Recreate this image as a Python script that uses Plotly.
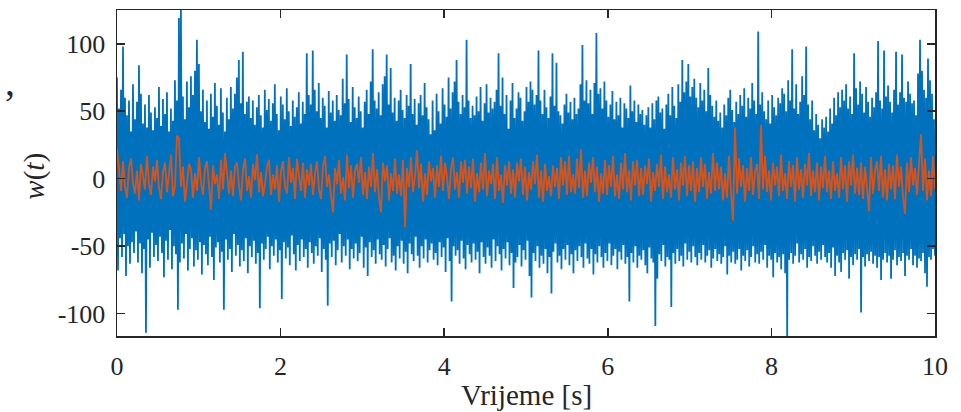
import numpy as np
import plotly.graph_objects as go

# Blue signal w(t): hand-read envelope samples (alternating upper/lower excursions)
w_blue = [
    75,-68, 52,-44, 66,-58, 98,-41, 60,-72, 47,-50, 58,-63, 35,-47, 70,-55, 44,-39,
    57,-62, 84,-48, 63,-70, 41,-52, 55,-114, 38,-45, 62,-66, 49,-40, 36,-58, 53,-49,
    45,-61, 68,-43, 39,-55, 59,-73, 48,-46, 64,-60, 35,-38, 52,-67, 43,-50, 73,-56,
    58,-97, 119,-62, 125,-48, 61,-59, 44,-41, 72,-68, 53,-52, 76,-44, 62,-65, 80,-53,
    103,-60, 85,-47, 50,-71, 66,-49, 42,-56, 58,-64, 37,-43, 63,-58, 46,-75, 71,-51,
    54,-47, 40,-62, 67,-54, 49,-97, 35,-45, 60,-60, 44,-52, 68,-69, 52,-41, 63,-57,
    75,-49, 88,-65, 56,-53, 94,-61, 48,-44, 57,-70, 61,-50, 45,-58, 58,-46, 40,-63,
    53,-55, 62,-96, 47,-48, 38,-60, 66,-52, 51,-43, 59,-67, 43,-50, 56,-57, 70,-45,
    48,-62, 36,-53, 61,-89, 55,-47, 44,-59, 67,-51, 50,-64, 39,-42, 58,-56, 46,-68,
    53,-49, 64,-61, 41,-45, 57,-58, 48,-52, 93,-66, 62,-47, 55,-55, 95,-63, 66,-50,
    50,-57, 71,-44, 45,-69, 60,-52, 54,-60, 38,-94, 65,-48, 49,-58, 58,-46, 43,-64,
    62,-53, 51,-41, 47,-62, 74,-50, 56,-57, 92,-45, 59,-67, 42,-52, 68,-59, 53,-48,
    45,-61, 61,-55, 50,-43, 38,-66, 57,-51, 66,-72, 48,-47, 72,-58, 96,-53, 58,-63,
    52,-45, 64,-56, 47,-60, 70,-49, 76,-65, 92,-52, 55,-44, 82,-62, 49,-57, 60,-68,
    43,-50, 58,-59, 66,-46, 51,-63, 45,-54, 62,-70, 54,-48, 85,-56, 48,-61, 59,-43,
    40,-57, 56,-66, 62,-50, 47,-59, 71,-45, 53,-62, 44,-53, 33,-48, 58,-60, 36,-55,
    63,-64, 50,-47, 41,-58, 67,-51, 55,-69, 46,-44, 75,-61, 52,-91, 64,-50, 72,-57,
    88,-53, 57,-63, 48,-46, 62,-59, 53,-67, 103,-49, 58,-56, 45,-62, 54,-48, 47,-60,
    61,-54, 50,-70, 68,-47, 43,-58, 56,-63, 70,-51, 49,-57, 60,-66, 52,-45, 57,-61,
    66,-50, 93,-56, 54,-68, 75,-52, 48,-59, 62,-47, 37,-64, 58,-55, 71,-81, 45,-62,
    52,-58, 64,-49, 60,-65, 43,-53, 50,-60, 68,-46, 57,-72, 72,-88, 66,-55, 55,-61,
    62,-50, 95,-66, 58,-57, 48,-63, 66,-52, 53,-70, 45,-58, 61,-85, 93,-54, 54,-48,
    86,-62, 50,-57, 47,-67, 41,-52, 55,-60, 63,-49, 49,-64, 57,-56, 44,-70, 60,-53,
    48,-61, 52,-50, 70,-58, 99,-66, 58,-48, 73,-59, 56,-63, 66,-52, 48,-71, 71,-56,
    108,-62, 63,-50, 67,-58, 52,-66, 72,-55, 58,-61, 46,-48, 55,-64, 65,-57, 44,-52,
    57,-67, 47,-54, 60,-60, 38,-49, 56,-63, 52,-58, 45,-91, 69,-55, 50,-62, 58,-50,
    42,-66, 55,-57, 48,-60, 51,-53, 40,-64, 47,-70, 53,-51, 38,-59, 56,-62, 44,-109,
    58,-74, 61,-56, 49,-61, 52,-49, 37,-65, 55,-58, 63,-60, 47,-95, 68,-55, 54,-63,
    45,-52, 70,-61, 57,-57, 88,-65, 64,-48, 72,-60, 85,-54, 61,-62, 68,-50, 74,-58,
    60,-64, 53,-55, 71,-60, 58,-49, 66,-62, 50,-57, 82,-53, 62,-66, 54,-59, 46,-52,
    58,-61, 43,-56, 49,-63, 38,-58, 55,-50, 47,-71, 60,-57, 66,-62, 51,-54, 42,-63,
    57,-60, 48,-52, 62,-68, 54,-57, 67,-61, 46,-53, 60,-65, 52,-58, 71,-50, 58,-62,
    48,-56, 109,-63, 55,-54, 64,-60, 50,-49, 44,-66, 58,-57, 41,-60, 62,-73, 53,-55,
    47,-62, 60,-58, 56,-67, 67,-56, 63,-70, 50,-117, 73,-60, 58,-55, 96,-63, 52,-57,
    70,-48, 48,-62, 57,-56, 76,-60, 62,-52, 98,-66, 55,-58, 44,-61, 58,-50, 36,-57,
    48,-63, 40,-54, 30,-60, 44,-49, 38,-58, 46,-62, 35,-55, 52,-66, 41,-51, 60,-72,
    47,-57, 64,-62, 53,-69, 66,-55, 58,-60, 70,-53, 52,-74, 61,-58, 48,-64, 93,-56,
    67,-60, 55,-52, 72,-99, 63,-58, 49,-65, 68,-56, 57,-61, 46,-54, 60,-63, 53,-57,
    64,-66, 102,-58, 58,-75, 52,-60, 95,-55, 61,-62, 69,-57, 57,-74, 49,-60, 66,-53,
    94,-64, 55,-58, 64,-61, 92,-55, 60,-72, 57,-57, 72,-60, 63,-52, 56,-64, 58,-57,
    47,-66, 78,-59, 103,-61, 80,-55, 66,-70, 60,-80, 89,-58, 73,-60, 63,-52, 44,-57,
]

# Orange signal: hand-read samples
w_orange = [
    22, 4, -9, 13, -6, -14, 8, 15, -3, -11,
    6, -16, 11, 2, -8, 17, -4, -12, 9, -2,
    14, -7, -15, 5, 12, -10, 3, 18, -13, -5,
    32, 30, -6, 9, -17, -2, 11, 7, -14, 4,
    -9, 16, -3, -12, 8, 13, -7, -23, 10, -4,
    3, -15, 14, -8, 19, 1, -11, 6, -13, 9,
    12, -5, -16, 7, 15, -9, 2, -14, 11, -1,
    18, -10, 5, -13, -4, 9, 14, -12, 3, -8,
    10, -17, 6, 13, -6, -11, 16, -3, 8, -15,
    15, 2, -9, 12, -14, 7, -5, 11, -12, 4,
    13, -8, -15, 9, 17, -6, 3, -13, -25, 8,
    -4, 14, -11, 1, -16, 18, -7, 10, -14, 6,
    11, -3, 16, -12, 5, -15, 9, -6, 19, -10,
    7, -14, -25, 12, -2, 10, -16, 4, -9, 15,
    -11, 3, -13, 14, -36, 8, -6, 16, -10, 2,
    21, -7, 11, -17, 4, -12, 13, -2, 8, -14,
    10, -6, 17, -9, 12, 1, -15, 7, 16, -8,
    5, -14, 13, -3, 14, -11, 9, -7, 15, -17,
    4, -10, 12, -8, 19, -13, 6, -4, 11, -15,
    16, -9, 3, -18, 10, -5, 13, -11, 7, -14,
    12, -2, 15, -12, 9, -16, 5, -8, 13, -4,
    18, -14, 6, -17, 11, -9, 2, -13, 10, -6,
    8, -15, 16, -5, 13, -12, 17, -10, 3, -11,
    15, -7, 22, -14, 6, -13, 12, -3, 16, -10,
    9, -17, 4, -11, 14, -12, 10, -6, 17, -13,
    3, -15, 12, -8, 19, -10, 6, -16, 13, -5,
    14, -13, 8, -12, 10, -4, 15, -17, 5, -9,
    11, -6, 18, -15, 9, -10, 3, -14, 16, -8,
    7, -16, 12, -5, 17, -13, 10, -9, 13, -17,
    8, -10, 16, -6, 11, -15, 5, -11, 19, -9,
    12, -8, 9, -16, 4, -14, 17, -10, -31, 38,
    -11, 15, -6, 10, -17, 8, -9, 16, -12, 5,
    11, -15, 40, -8, 17, -10, 6, -16, 12, -5,
    9, -13, 18, -9, 4, -15, 13, -6, 10, -17,
    16, -8, 7, -14, 11, -5, 19, -13, 6, -10,
    12, -16, 9, -7, 17, -10, 6, -15, 13, -9,
    4, -14, 16, -8, 10, -17, 13, -5, 18, -11,
    8, -12, 12, -15, 9, -7, -24, 16, -11, 6,
    13, -9, 17, -14, 7, -16, 11, -8, 10, -15,
    18, -6, 9, -13, -26, 12, -10, 16, -5, 8,
    -12, 11, 33, -9, 15, -16, 6, -13, 17, -8,
]

x_tickvals = [0, 2, 4, 6, 8, 10]
x_ticktext = ["0", "2", "4", "6", "8", "10"]
y_tickvals = [-100, -50, 0, 50, 100]
y_ticktext = ["-100", "-50", "0", "50", "100"]

T_END = 10.0
t_blue = np.linspace(0, T_END, len(w_blue))
t_orange = np.linspace(0, T_END, len(w_orange))

BLUE = "#0072BD"
ORANGE = "#D95319"
AX = "#262626"
FONT = "Liberation Serif, DejaVu Serif, serif"

fig = go.Figure()
fig.add_trace(go.Scatter(x=t_blue, y=w_blue, mode="lines",
                         line=dict(color=BLUE, width=1.8), hoverinfo="skip"))
fig.add_trace(go.Scatter(x=t_orange, y=w_orange, mode="lines",
                         line=dict(color=ORANGE, width=1.8), hoverinfo="skip"))

axis_common = dict(
    showgrid=False, zeroline=False, showline=True, linecolor=AX, linewidth=1.5,
    mirror="ticks", ticks="inside", ticklen=8, tickwidth=1.5, tickcolor=AX,
    tickfont=dict(family=FONT, size=26, color=AX), automargin=False,
)

fig.update_layout(
    width=961, height=412,
    margin=dict(l=117, r=26, t=10, b=76),
    plot_bgcolor="white", paper_bgcolor="white",
    showlegend=False,
    xaxis=dict(range=[0, T_END], tickvals=x_tickvals, ticktext=x_ticktext,
               ticklabelstandoff=6, **axis_common),
    yaxis=dict(range=[-116.5, 125], tickvals=y_tickvals, ticktext=y_ticktext,
               ticklabelstandoff=5, **axis_common),
    annotations=[
        dict(text="Vrijeme [s]", xref="paper", yref="paper",
             x=0.5, y=-0.181, xanchor="center", yanchor="middle",
             showarrow=False, font=dict(family=FONT, size=29, color=AX)),
        dict(text="<i>w</i>(<i>t</i>)", xref="paper", yref="paper",
             x=-0.101, y=0.49, xanchor="center", yanchor="middle",
             textangle=-90, showarrow=False,
             font=dict(family=FONT, size=29, color=AX)),
        dict(text=",", xref="paper", yref="paper",
             x=-0.131, y=0.78, xanchor="center", yanchor="middle",
             showarrow=False, font=dict(family=FONT, size=40, color=AX)),
    ],
)

fig.write_html("out.html", config={"displayModeBar": False, "staticPlot": True})

# remove the default page margin so the figure sits at the window's top-left corner
with open("out.html", "r", encoding="utf-8") as fh:
    html = fh.read()
html = html.replace("<head>", "<head><style>html,body{margin:0;padding:0;overflow:hidden;}</style>", 1)
with open("out.html", "w", encoding="utf-8") as fh:
    fh.write(html)
